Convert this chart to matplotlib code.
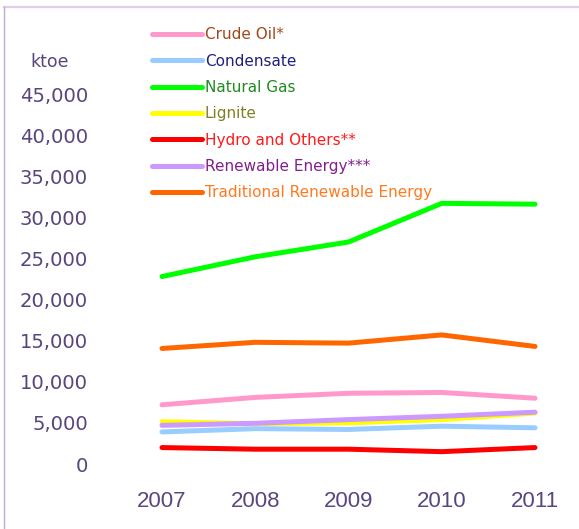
import matplotlib.pyplot as plt
from matplotlib.lines import Line2D
from matplotlib.ticker import FuncFormatter

# data (ktoe)
years = [2007, 2008, 2009, 2010, 2011]
crude_oil = [7200, 8100, 8600, 8700, 8000]
condensate = [3900, 4300, 4200, 4600, 4400]
natural_gas = [22800, 25200, 27000, 31700, 31600]
lignite = [5150, 4900, 5000, 5400, 6200]
hydro = [2000, 1800, 1800, 1500, 2000]
renewable = [4700, 4950, 5400, 5800, 6300]
traditional = [14050, 14800, 14700, 15700, 14300]

series = [
    ("Crude Oil*", crude_oil, "#ff99cc", "#a0481c"),
    ("Condensate", condensate, "#99ccff", "#1f1f80"),
    ("Natural Gas", natural_gas, "#00ff00", "#228b22"),
    ("Lignite", lignite, "#ffff00", "#808020"),
    ("Hydro and Others**", hydro, "#ff0000", "#ff1a1a"),
    ("Renewable Energy***", renewable, "#cc99ff", "#80208a"),
    ("Traditional Renewable Energy", traditional, "#ff6600", "#ff7a1f"),
]

tick_color = "#5a467e"

fig = plt.figure(figsize=(5.79, 5.29), dpi=100)
W, H = 579, 529
PT = 72 / 100  # points per pixel

# axes placed so that 2007 -> x=162px, 2011 -> x=535px, 0 -> y=464px
left_px, right_px, top_px, bot_px = 130, 570, 80, 480
ax = fig.add_axes([left_px / W, 1 - bot_px / H,
                   (right_px - left_px) / W, (bot_px - top_px) / H])
px_per_year = (535 - 162) / 4
px_per_unit = (464 - 94) / 45000
ax.set_xlim(2007 - (162 - left_px) / px_per_year, 2011 + (right_px - 535) / px_per_year)
ax.set_ylim(-(bot_px - 464) / px_per_unit, (464 - top_px) / px_per_unit)

for name, vals, lc, tc in series:
    ax.plot(years, vals, color=lc, lw=3.6, solid_capstyle="round",
            solid_joinstyle="round", label=name)

for s in ax.spines.values():
    s.set_visible(False)
ax.tick_params(length=0)

ax.set_yticks(range(0, 45001, 5000))
ax.yaxis.set_major_formatter(FuncFormatter(lambda v, p: f"{int(v):,}"))
ax.tick_params(axis="y", pad=(130 - 88) * PT, labelsize=14.1, labelcolor=tick_color)
ax.set_xticks(years)
ax.set_xticklabels([str(y) for y in years], family="Liberation Sans",
                   fontsize=16, color=tick_color)
ax.tick_params(axis="x", pad=(491 - 480) * PT)

fig.text(50 / W, 1 - 62 / H, "ktoe", ha="center", va="center",
         fontsize=12.5, color=tick_color)

leg = ax.legend(loc="upper left", bbox_to_anchor=(152 / W, 1 - 27.5 / H),
                bbox_transform=fig.transFigure, frameon=False, fontsize=11,
                borderpad=0, borderaxespad=0, handlelength=3.25,
                handletextpad=0.2, labelspacing=0.74)
for txt, (_, _, _, tc) in zip(leg.get_texts(), series):
    txt.set_color(tc)

# chart frame: light top border and left border
fig.add_artist(Line2D([4 / W, 1], [1 - 6.7 / H, 1 - 6.7 / H], color="#dcd0ea", lw=1.6))
fig.add_artist(Line2D([4.3 / W, 4.3 / W], [0, 1 - 6.7 / H], color="#c0a8d8", lw=1.0))

fig.savefig("out.png", dpi=100)
